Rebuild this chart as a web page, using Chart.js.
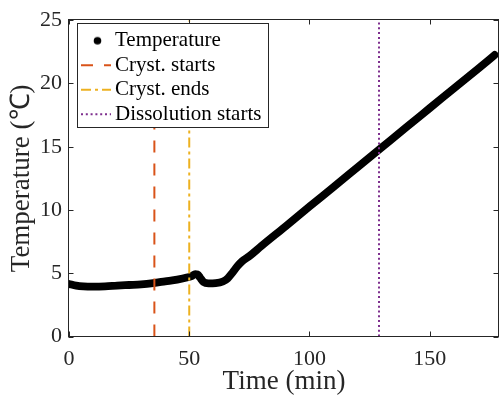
<!DOCTYPE html>
<html><head><meta charset="utf-8">
<script src="https://cdn.jsdelivr.net/npm/chart.js@4/dist/chart.umd.min.js"></script>
<style>html,body{margin:0;padding:0;background:#fff;}canvas{display:block;background:#fff;}</style>
</head><body>
<canvas id="c" width="501" height="399"></canvas>
<script>
// ---- data ----
const timeMin = [0,3,6,10,15,20,25,30,35,40,45,49,51,52.5,53.5,54.5,56,58,61,64,66,68,70,72,75,80,90,100,110,120,130,140,150,160,170,177];
const temperature = [4.15,4.02,3.96,3.94,3.96,4.02,4.07,4.12,4.22,4.36,4.5,4.66,4.78,4.92,4.9,4.65,4.3,4.2,4.22,4.35,4.6,5.05,5.55,5.95,6.35,7.15,8.7,10.27,11.82,13.38,14.94,16.5,18.05,19.6,21.15,22.25];
const seriesName = 'Temperature';
const eventNames = ['Cryst. starts','Cryst. ends','Dissolution starts'];
const eventTimes = [35.5, 50, 128.9];
const xRange = [0, 178.8];
const yRange = [0, 25];
const xTickStep = 50;
const yTickStep = 5;
const xTitle = 'Time (min)';
const yTitle = 'Temperature (\u2103)';

// ---- styles ----
const axisColor = '#262626';
const serif = "'Liberation Serif', 'Times New Roman', serif";
const eventStyles = [
  {color:'#D95319', dash:[12,11]},
  {color:'#EDB120', dash:[10,4,3,4]},
  {color:'#7E2F8E', dash:[2,2.8]}
];
const iconW = 49, iconH = 24;
function lineIcon(color, dash){
  const c = document.createElement('canvas'); c.width = iconW; c.height = iconH;
  const g = c.getContext('2d'); g.strokeStyle = color; g.lineWidth = 2; g.setLineDash(dash);
  g.beginPath(); g.moveTo(17, 12); g.lineTo(47, 12); g.stroke(); return c;
}
function dotIcon(color){
  const c = document.createElement('canvas'); c.width = iconW; c.height = iconH;
  const g = c.getContext('2d'); g.fillStyle = color;
  g.beginPath(); g.arc(33.5, 12, 3.8, 0, Math.PI*2); g.fill(); return c;
}

const datasets = [{
  label: seriesName,
  data: timeMin.map((t,i)=>({x:t, y:temperature[i]})),
  borderColor:'#000', backgroundColor:'#000', borderWidth:7.8,
  borderCapStyle:'round', borderJoinStyle:'round',
  pointRadius:0, tension:0.35, cubicInterpolationMode:'monotone', order:2
}];
eventTimes.forEach((t,i)=>{
  datasets.push({
    label: eventNames[i],
    data: [{x:t, y:yRange[0]}, {x:t, y:yRange[1]}],
    borderColor: eventStyles[i].color, borderWidth:2, borderDash: eventStyles[i].dash,
    pointRadius:0, order:1
  });
});
const icons = [dotIcon('#000')].concat(eventStyles.map(s=>lineIcon(s.color, s.dash)));

const framePlugin = {
  id:'frame',
  afterLayout(chart){
    chart.legend.top = chart.chartArea.top + 6.5;
  },
  afterDatasetsDraw(chart){
    const {ctx, chartArea:a, scales:{x, y}} = chart;
    ctx.save();
    ctx.strokeStyle = axisColor; ctx.lineWidth = 1;
    const L = Math.round(a.left) - 0.5, R = Math.round(a.right) - 0.5;
    const T = Math.round(a.top) - 0.5, B = Math.round(a.bottom) - 0.5;
    ctx.strokeRect(L, T, R - L, B - T);
    const tl = 5;
    ctx.beginPath();
    x.ticks.forEach(t=>{
      const px = Math.round(x.getPixelForValue(t.value)) + 0.5;
      ctx.moveTo(px, B); ctx.lineTo(px, B - tl);
      ctx.moveTo(px, T); ctx.lineTo(px, T + tl);
    });
    y.ticks.forEach(t=>{
      const py = Math.round(y.getPixelForValue(t.value)) + 0.5;
      ctx.moveTo(L, py); ctx.lineTo(L + tl, py);
      ctx.moveTo(R, py); ctx.lineTo(R - tl, py);
    });
    ctx.stroke();
    // legend box
    const lg = chart.legend;
    const lo = lg.options.labels;
    const fs = lo.font.size, pad = lo.padding;
    ctx.font = fs + 'px ' + serif;
    let tw = 0;
    lg.legendItems.forEach(it=>{ tw = Math.max(tw, ctx.measureText(it.text).width); });
    const textX = lg.left + pad + lo.pointStyleWidth + fs/2;
    const bx = Math.round(lg.left + 8) + 0.5;
    const by = Math.round(lg.top - 4) + 0.5;
    const bw = Math.round(textX + tw + 6.5) - bx + 0.5;
    const bh = Math.round(lg.top + pad + lg.legendItems.length*(fs+pad) - 1.5) - by + 0.5;
    ctx.fillStyle = '#fff';
    ctx.fillRect(bx, by, bw, bh);
    ctx.strokeStyle = axisColor;
    ctx.strokeRect(bx, by, bw, bh);
    ctx.restore();
    lg.draw();
  }
};

new Chart(document.getElementById('c'), {
  type:'line',
  data:{datasets},
  options:{
    responsive:false, animation:false, events:[],
    layout:{padding:{top:15.5, right:2, left:0, bottom:0}},
    scales:{
      x:{
        type:'linear', min:xRange[0], max:xRange[1],
        afterFit(s){ s.height = 62.5; },
        grid:{display:false, drawTicks:false},
        border:{display:false},
        ticks:{stepSize:xTickStep, includeBounds:false, padding:9.5, color:axisColor,
               font:{family:serif, size:22}, maxRotation:0},
        title:{display:true, text:xTitle, color:axisColor,
               font:{family:serif, size:27, lineHeight:1.2}, padding:{top:0, bottom:1}}
      },
      y:{
        type:'linear', min:yRange[0], max:yRange[1],
        afterFit(s){ s.width = 69; },
        grid:{display:false, drawTicks:false},
        border:{display:false},
        ticks:{stepSize:yTickStep, includeBounds:false, padding:7, color:axisColor,
               font:{family:serif, size:22}},
        title:{display:true, text:yTitle, color:axisColor,
               font:{family:serif, size:27, lineHeight:1.2}, padding:{top:6, bottom:0}}
      }
    },
    plugins:{
      tooltip:{enabled:false},
      legend:{
        position:'chartArea', align:'start',
        labels:{
          usePointStyle:true, pointStyleWidth:32, padding:3.5, color:'#000',
          font:{family:serif, size:21},
          generateLabels(chart){
            return chart.data.datasets.map((d,i)=>({
              text:d.label, pointStyle:icons[i], datasetIndex:i, hidden:false,
              fontColor:'#000', lineWidth:0, strokeStyle:'rgba(0,0,0,0)', fillStyle:'rgba(0,0,0,0)'
            }));
          }
        }
      }
    }
  },
  plugins:[framePlugin]
});
</script>
</body></html>
